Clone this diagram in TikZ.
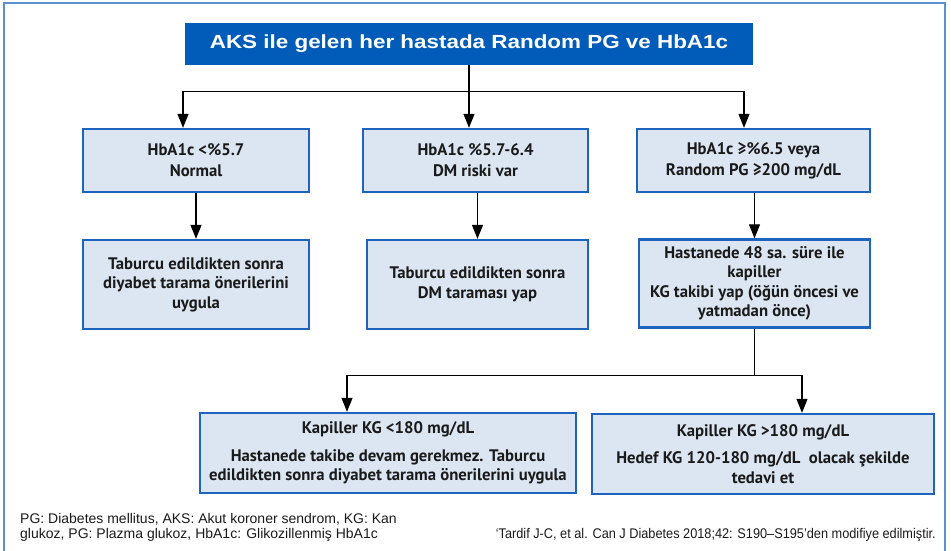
\documentclass[tikz,border=0pt]{standalone}
\usepackage{fontspec}
\usepackage{tikz}
\usetikzlibrary{arrows.meta}
\usepackage{xcolor}
\setmainfont{Liberation Sans}
\newfontfamily\boxfont{PT Sans}
\newfontfamily\titlefont[FakeStretch=1.18]{Liberation Sans}
\newfontfamily\notefont{Liberation Sans}
\newfontfamily\citefont[FakeStretch=0.91]{Liberation Sans}
\definecolor{titleBlue}{HTML}{005CB8}
\definecolor{boxBlue}{HTML}{1E64BE}
\definecolor{boxFill}{HTML}{DCE6F2}
\definecolor{frameBlue}{HTML}{5A8FD0}
\definecolor{inkDark}{HTML}{1A1A1A}
\tikzset{
    % arrow style
    >={Triangle[width=11pt, length=14pt]},
    % connector style
    link/.style = {draw=black, line width=1.2pt},
    % title node style
    titleBox/.style = {
        rectangle, fill=titleBlue, text=white,
        minimum width=568pt, minimum height=42pt,
        font=\titlefont\fontsize{19}{22}\selectfont\bfseries
    },
    % abstract base node style
    infoBox/.style = {
        draw=boxBlue, line width=2.4pt, fill=boxFill, rectangle,
        text=inkDark, align=center, inner sep=2pt,
        font=\boxfont\fontsize{16.7}{19.5}\selectfont\bfseries
    },
    % first row of result boxes
    levelBox/.style = {infoBox, minimum height=63pt,
        font=\boxfont\fontsize{16.7}{21}\selectfont\bfseries},
    % footer text style
    footNote/.style = {text=inkDark, inner sep=0pt, align=left}
}
\begin{document}
\begin{tikzpicture}[x=1pt, y=-1pt]
    \clip (0,0) rectangle (951,550);
    % outer frame
    \draw[frameBlue, line width=1.6pt] (4,3) rectangle (945,600);
    % place blocks of the flowchart
    \node[titleBox] (title) at (469,44) {AKS ile gelen her hastada Random PG ve HbA1c};
    \node[levelBox, minimum width=226pt] (hbaLow) at (196,160.5) {HbA1c <\%5.7\\Normal};
    \node[levelBox, minimum width=225pt] (hbaMid) at (475.5,160.5) {HbA1c \%5.7-6.4\\DM riski var};
    \node[levelBox, minimum width=233pt] (hbaHigh) at (753.5,160.5) {HbA1c ≥\%6.5 veya\\Random PG ≥200 mg/dL};
    \node[infoBox, minimum width=226pt, minimum height=89pt] (taburcuLow) at (196,284.5) {Taburcu edildikten sonra\\diyabet tarama önerilerini\\uygula};
    \node[infoBox, minimum width=221pt, minimum height=89pt] (taburcuMid) at (477.5,284.5) {Taburcu edildikten sonra\\DM taraması yap};
    \node[infoBox, minimum width=231pt, minimum height=88pt] (kapillerTakip) at (754.5,283.5) {Hastanede 48 sa. süre ile\\kapiller\\KG takibi yap (öğün öncesi ve\\yatmadan önce)};
    \node[infoBox, minimum width=376pt, minimum height=80pt] (kgLow) at (388,453) {Kapiller KG <180 mg/dL\\[8pt]Hastanede takibe devam gerekmez. Taburcu\\edildikten sonra diyabet tarama önerilerini uygula};
    \node[infoBox, minimum width=342pt, minimum height=80pt] (kgHigh) at (763,454) {Kapiller KG >180 mg/dL\\[8pt]Hedef KG 120-180 mg/dL\ \ olacak şekilde\\tedavi et};
    % footer notes
    \node[footNote, anchor=north west, font=\notefont\fontsize{14}{15.5}\selectfont] (abbrev) at (20,513) {PG: Diabetes mellitus, AKS: Akut koroner sendrom, KG: Kan\\glukoz, PG: Plazma glukoz, HbA1c: Glikozillenmiş HbA1c};
    \node[footNote, anchor=east, font=\citefont\fontsize{14}{15}\selectfont] (source) at (936,535) {‘Tardif J-C, et al. Can J Diabetes 2018;42: S190–S195’den modifiye edilmiştir.};
    % draw right angle arrows from the title
    \draw[link] (title.south) -- ++(0,26) coordinate (splitTop);
    \draw[link, ->] (title.south) -- (title.south |- hbaMid.north);
    \draw[link, ->] (splitTop) -| ([xshift=-13pt]hbaLow.north);
    \draw[link, ->] (splitTop) -| ([xshift=-9.5pt]hbaHigh.north);
    % draw straight arrows
    \draw[link, ->] (hbaLow) -- (taburcuLow);
    \draw[link, ->] (taburcuMid.north |- hbaMid.south) -- (taburcuMid.north);
    \draw[link, ->] (kapillerTakip.north |- hbaHigh.south) -- (kapillerTakip.north);
    % draw the lower split
    \draw[link] (kapillerTakip.south) -- ++(0,47) coordinate (splitLow);
    \draw[link, ->] (splitLow) -| ([xshift=-41pt]kgLow.north);
    \draw[link, ->] (splitLow) -| ([xshift=39pt]kgHigh.north);
\end{tikzpicture}
\end{document}
